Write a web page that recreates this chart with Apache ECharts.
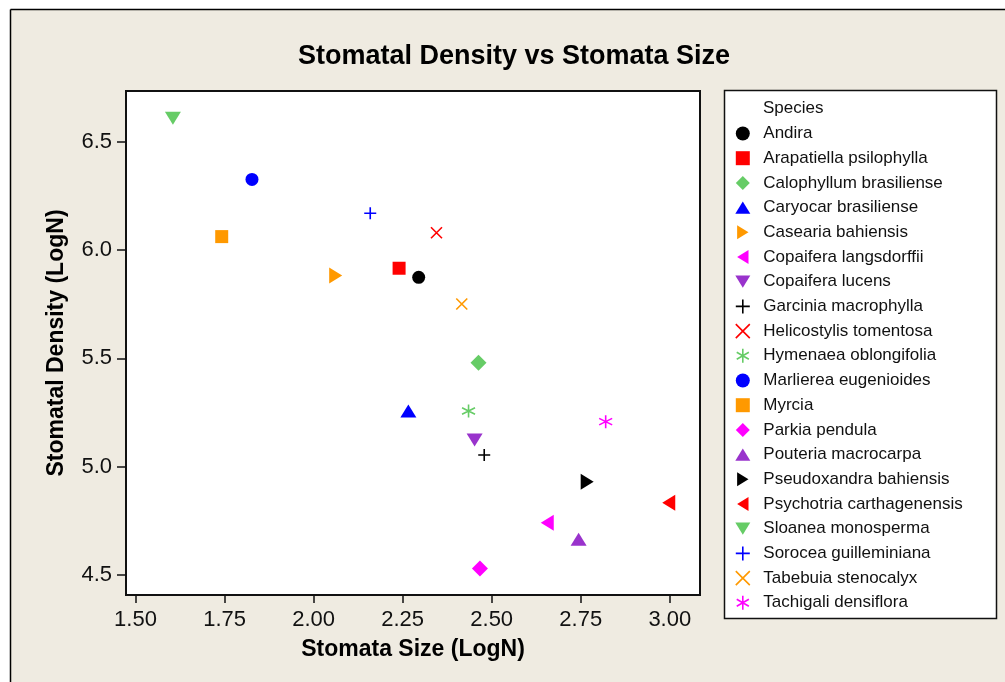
<!DOCTYPE html>
<html>
<head>
<meta charset="utf-8">
<script src="https://cdn.jsdelivr.net/npm/echarts@6/dist/echarts.min.js"></script>
<style>
  html, body { margin: 0; padding: 0; background: #fff; }
  #chart { width: 1005px; height: 682px; }
</style>
</head>
<body>
<div id="chart"></div>
<script>
// ---- Data ----
const species = [
  'Andira', 'Arapatiella psilophylla', 'Calophyllum brasiliense', 'Caryocar brasiliense',
  'Casearia bahiensis', 'Copaifera langsdorffii', 'Copaifera lucens', 'Garcinia macrophylla',
  'Helicostylis tomentosa', 'Hymenaea oblongifolia', 'Marlierea eugenioides', 'Myrcia',
  'Parkia pendula', 'Pouteria macrocarpa', 'Pseudoxandra bahiensis', 'Psychotria carthagenensis',
  'Sloanea monosperma', 'Sorocea guilleminiana', 'Tabebuia stenocalyx', 'Tachigali densiflora'
];
const stomataSize = [
  2.295, 2.240, 2.463, 2.266,
  2.062, 2.656, 2.452, 2.479,
  2.345, 2.435, 1.827, 1.742,
  2.467, 2.744, 2.768, 2.997,
  1.605, 2.159, 2.416, 2.820
];
const stomatalDensity = [
  5.874, 5.916, 5.480, 5.257,
  5.882, 4.742, 5.123, 5.054,
  6.080, 5.257, 6.326, 6.062,
  4.530, 4.665, 4.931, 4.834,
  6.608, 6.170, 5.751, 5.208
];
const xTickValues = [1.50, 1.75, 2.00, 2.25, 2.50, 2.75, 3.00];
const yTickValues = [4.5, 5.0, 5.5, 6.0, 6.5];
const legendTitle = 'Species';
const chartTitle = 'Stomatal Density vs Stomata Size';
const xAxisTitle = 'Stomata Size (LogN)';
const yAxisTitle = 'Stomatal Density (LogN)';

// ---- Styles ----
const C = {
  black: '#000000', red: '#ff0000', green: '#66cc66', blue: '#0000ff',
  orange: '#ff9900', magenta: '#ff00ff', purple: '#9933cc'
};
const SYM = {
  circle: { symbol: 'circle', size: 13, stroke: false },
  square: { symbol: 'path://M0,0L12,0L12,12L0,12Z', size: 13, stroke: false },
  diamond: { symbol: 'path://M8,0L16,8L8,16L0,8Z', size: 16, stroke: false },
  triUp: { symbol: 'path://M8,0L16,13L0,13Z', size: [16, 13], stroke: false },
  triDown: { symbol: 'path://M0,0L16,0L8,13Z', size: [16, 13], stroke: false },
  triRight: { symbol: 'path://M0,0L13,8L0,16Z', size: [13, 16], stroke: false },
  triLeft: { symbol: 'path://M13,0L0,8L13,16Z', size: [13, 16], stroke: false },
  plus: { symbol: 'path://M0,6L12,6M6,0L6,12', size: 12, stroke: true },
  cross: { symbol: 'path://M0,0L12,12M12,0L0,12', size: 11, stroke: true },
  star: { symbol: 'path://M6,0L6,12M0.8,3L11.2,9M0.8,9L11.2,3', size: 13, stroke: true }
};
const seriesStyle = [
  ['circle', C.black], ['square', C.red], ['diamond', C.green], ['triUp', C.blue],
  ['triRight', C.orange], ['triLeft', C.magenta], ['triDown', C.purple], ['plus', C.black],
  ['cross', C.red], ['star', C.green], ['circle', C.blue], ['square', C.orange],
  ['diamond', C.magenta], ['triUp', C.purple], ['triRight', C.black], ['triLeft', C.red],
  ['triDown', C.green], ['plus', C.blue], ['cross', C.orange], ['star', C.magenta]
];

const FONT = '"Liberation Sans", Arial, sans-serif';
const INK = '#000';

const series = species.map((name, i) => {
  const [symKey, color] = seriesStyle[i];
  const s = SYM[symKey];
  return {
    name: name,
    type: 'scatter',
    data: [[stomataSize[i], stomatalDensity[i]]],
    symbol: s.symbol,
    symbolSize: s.size,
    itemStyle: s.stroke
      ? { color: color, borderColor: color, borderWidth: 1.6, opacity: 1 }
      : { color: color, borderWidth: 0, opacity: 1 },
    emphasis: { disabled: true },
    z: 3
  };
});

const chart = echarts.init(document.getElementById('chart'), null, { renderer: 'canvas' });
chart.setOption({
  animation: false,
  backgroundColor: '#efebe1',
  textStyle: { fontFamily: FONT },
  grid: {
    left: 126, top: 91, width: 574, height: 504,
    show: true, backgroundColor: '#ffffff', borderColor: '#111', borderWidth: 2
  },
  xAxis: {
    type: 'value',
    min: 1.4733, max: 3.0848,
    name: xAxisTitle,
    nameLocation: 'middle',
    nameGap: 43,
    nameTextStyle: { fontFamily: FONT, fontSize: 23, fontWeight: 'bold', color: INK },
    axisLine: { show: false },
    axisTick: { show: true, inside: false, length: 8, customValues: xTickValues, lineStyle: { color: '#111', width: 1.5 } },
    axisLabel: {
      show: true, customValues: xTickValues, margin: 14,
      fontFamily: FONT, fontSize: 22, color: '#111',
      formatter: v => Number(v).toFixed(2)
    },
    splitLine: { show: false }
  },
  yAxis: {
    type: 'value',
    min: 4.408, max: 6.734,
    name: yAxisTitle,
    nameLocation: 'middle',
    nameGap: 58,
    nameRotate: 90,
    nameTextStyle: { fontFamily: FONT, fontSize: 23, fontWeight: 'bold', color: INK },
    axisLine: { show: false },
    axisTick: { show: true, inside: false, length: 9, customValues: yTickValues, lineStyle: { color: '#111', width: 1.5 } },
    axisLabel: {
      show: true, customValues: yTickValues, margin: 14,
      fontFamily: FONT, fontSize: 22, color: '#111',
      formatter: v => Number(v).toFixed(1)
    },
    splitLine: { show: false }
  },
  legend: {
    show: true,
    orient: 'vertical',
    left: 735,
    top: 125,
    itemWidth: 15,
    itemHeight: 14,
    itemGap: 7.7,
    selectedMode: false,
    padding: 0,
    symbolKeepAspect: true,
    data: species,
    itemStyle: { borderWidth: 'inherit' },
    textStyle: { fontFamily: FONT, fontSize: 17, color: '#111', lineHeight: 17, padding: [0, 0, 0, 8] }
  },
  graphic: [
    // white margin outside the outer frame
    { type: 'rect', shape: { x: 0, y: 0, width: 1005, height: 9 }, style: { fill: '#fff' }, z: 0 },
    { type: 'rect', shape: { x: 0, y: 0, width: 10, height: 682 }, style: { fill: '#fff' }, z: 0 },
    { type: 'line', shape: { x1: 10.5, y1: 9.5, x2: 1005, y2: 9.5 }, style: { stroke: '#000', lineWidth: 1.5 }, z: 0 },
    { type: 'line', shape: { x1: 10.5, y1: 9.5, x2: 10.5, y2: 682 }, style: { stroke: '#000', lineWidth: 1.5 }, z: 0 },
    // legend box
    { type: 'rect', shape: { x: 724.5, y: 90.5, width: 272, height: 528 }, style: { fill: '#fff', stroke: '#111', lineWidth: 1.5 }, z: 0 },
    { type: 'text', x: 763, y: 108, style: { text: legendTitle, font: '17px ' + FONT, fill: '#111', textAlign: 'left', textVerticalAlign: 'middle' }, z: 5 },
    // chart title
    { type: 'text', x: 514, y: 57, style: { text: chartTitle, font: 'bold 27px ' + FONT, fill: INK, textAlign: 'center', textVerticalAlign: 'middle' }, z: 5 }
  ],
  series: series
});
</script>
</body>
</html>
